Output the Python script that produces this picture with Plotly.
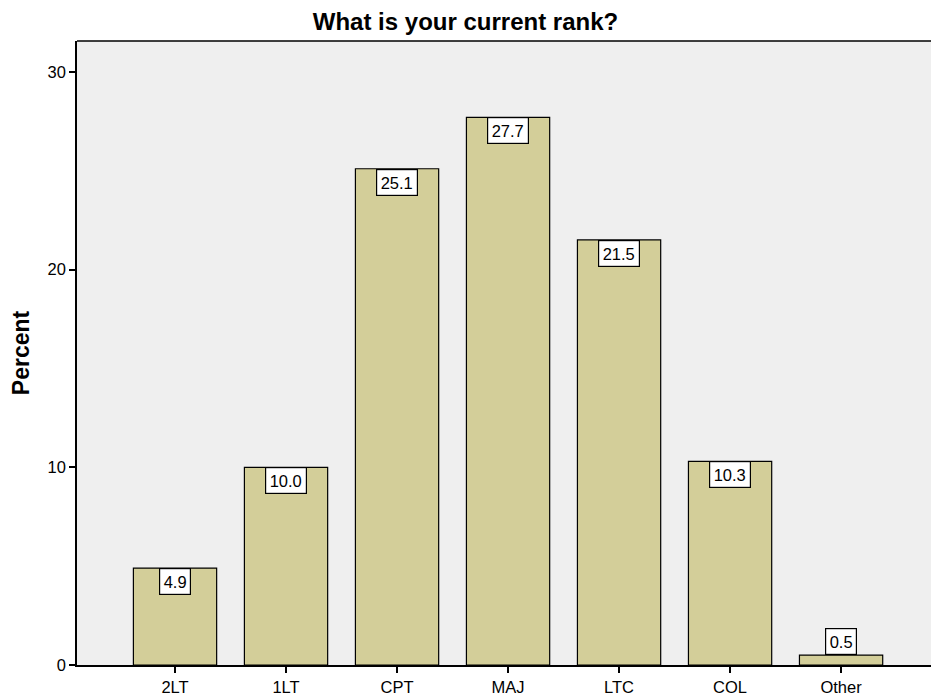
import plotly.graph_objects as go

categories = ["2LT", "1LT", "CPT", "MAJ", "LTC", "COL", "Other"]
percents = [4.9, 10.0, 25.1, 27.7, 21.5, 10.3, 0.5]
label_texts = ["4.9", "10.0", "25.1", "27.7", "21.5", "10.3", "0.5"]
y_ticks = [0, 10, 20, 30]

FONT = "Liberation Sans, Arial, sans-serif"

fig = go.Figure()
fig.add_trace(go.Bar(
    x=list(range(len(categories))),
    y=percents,
    width=0.75,
    marker=dict(color="#d3ce99", line=dict(color="#000000", width=1.2)),
    hoverinfo="skip",
))

annotations = []
for i, (v, t) in enumerate(zip(percents, label_texts)):
    inside = v > 2
    annotations.append(dict(
        x=i, y=v, xref="x", yref="y",
        text=t, showarrow=False,
        yanchor="top" if inside else "bottom",
        font=dict(family=FONT, size=16.5, color="#000000"),
        bgcolor="#ffffff", bordercolor="#000000", borderwidth=1.2, borderpad=3.5,
    ))

fig.update_layout(
    width=931, height=700,
    margin=dict(l=77, r=0, t=41, b=35, autoexpand=False),
    paper_bgcolor="#ffffff",
    plot_bgcolor="#efefef",
    showlegend=False,
    title=dict(text="<b>What is your current rank?</b>", x=0.5, xanchor="center",
               y=1 - 22 / 700, yanchor="middle",
               font=dict(family=FONT, size=24, color="#000000")),
    annotations=annotations,
    xaxis=dict(
        range=[-0.883, 6.81],
        tickmode="array", tickvals=list(range(len(categories))), ticktext=categories,
        ticks="outside", ticklen=6, tickwidth=1.5, tickcolor="#000000",
        showline=True, linecolor="#000000", linewidth=1.5,
        showgrid=False, zeroline=False,
        tickfont=dict(family=FONT, size=16.5, color="#000000"),
    ),
    yaxis=dict(
        range=[0, 31.56],
        tickmode="array", tickvals=y_ticks,
        ticks="outside", ticklen=6, tickwidth=1.5, tickcolor="#000000",
        showline=True, linecolor="#000000", linewidth=1.5,
        showgrid=False, zeroline=False,
        tickfont=dict(family=FONT, size=16.5, color="#000000"),
        title=dict(text="<b>Percent</b>", standoff=12,
                   font=dict(family=FONT, size=23, color="#000000")),
    ),
)
fig.add_shape(type="line", xref="paper", yref="paper", x0=0, x1=1, y0=1, y1=1,
              line=dict(color="#000000", width=1.5))

fig.write_html("out.html", config={"displayModeBar": False},
               post_script="document.body.style.margin='0';")
